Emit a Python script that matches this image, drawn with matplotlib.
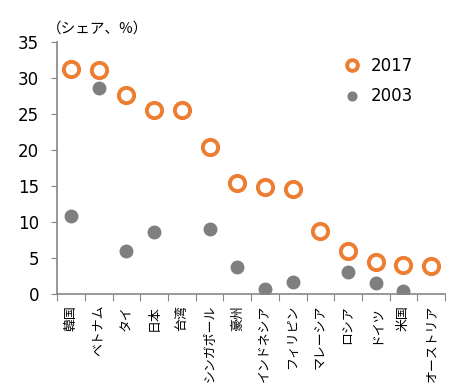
import numpy as np
import matplotlib
matplotlib.use("Agg")
import matplotlib.pyplot as plt

plt.rcParams['font.family'] = ['DejaVu Sans', 'Noto Sans CJK JP']

countries = ['韓国', 'ベトナム', 'タイ', '日本', '台湾', 'シンガポール', '豪州',
             'インドネシア', 'フィリピン', 'マレーシア', 'ロシア', 'ドイツ', '米国', 'オーストリア']
share_2017 = [31.3, 31.1, 27.6, 25.6, 25.55, 20.4, 15.4, 14.9, 14.6, 8.75, 6.0, 4.5, 4.1, 3.95]
share_2003 = [10.8, 28.6, 6.0, 8.6, np.nan, 9.1, 3.7, 0.75, 1.65, np.nan, 3.0, 1.55, 0.4, np.nan]

fig = plt.figure(figsize=(4.5, 3.88), dpi=100)
ax = fig.add_axes([0.127, 0.242, 0.862, 0.65])

x = np.arange(len(countries))
ax.plot(x, share_2017, 'o', ms=11, mfc='white', mec='#ED7D31', mew=2.8,
        ls='none', label='2017')
ax.plot(x, share_2003, 'o', ms=9, color='#7F7F7F', ls='none', label='2003')

ax.set_xlim(-0.5, len(countries) - 0.5)
ax.set_ylim(0, 35)
ax.set_yticks(range(0, 36, 5))
ax.tick_params(axis='y', labelsize=12, color='#868686', length=4, pad=9)

# 目盛りはカテゴリの境界に
ax.set_xticks(np.arange(-0.5, len(countries), 1))
ax.set_xticklabels([])
ax.tick_params(axis='x', color='#868686', length=5)
for i, name in enumerate(countries):
    ax.text(i, -1.5, name, rotation=90, ha='center', va='top', fontsize=9.3,
            family=['Noto Sans CJK JP'])

for s in ['top', 'right']:
    ax.spines[s].set_visible(False)
for s in ['left', 'bottom']:
    ax.spines[s].set_color('#868686')
    ax.spines[s].set_linewidth(1.2)

fig.text(0.105, 0.915, '（シェア、%）', fontsize=10.5, family=['Noto Sans CJK JP'])

leg = ax.legend(loc='upper right', bbox_to_anchor=(0.955, 1.0), frameon=False,
                fontsize=12, handletextpad=0.1, labelspacing=0.75, markerscale=0.7)

fig.savefig('out.png', dpi=100)
